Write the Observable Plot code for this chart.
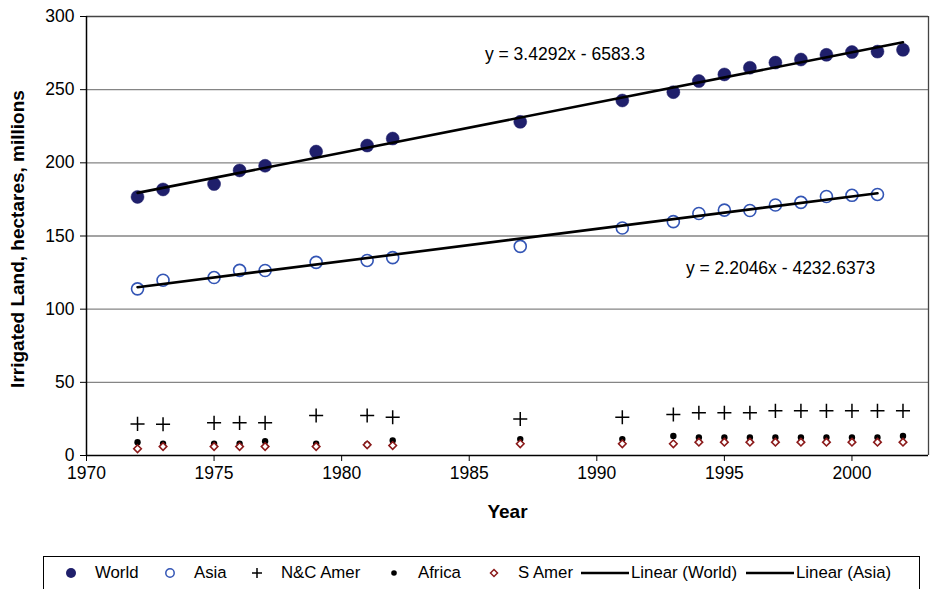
<!DOCTYPE html>
<html>
<head>
<meta charset="utf-8">
<script src="https://cdn.jsdelivr.net/npm/d3@7"></script>
<script src="https://cdn.jsdelivr.net/npm/@observablehq/plot@0.6"></script>
<style>
  html, body { margin: 0; padding: 0; background: #fff; }
  body { width: 933px; height: 589px; position: relative; overflow: hidden; font-family: "Liberation Sans", Arial, sans-serif; }
  #chart { position: absolute; left: 0; top: 0; }
  #legend { position: absolute; left: 43px; top: 556px; width: 877px; height: 40px; border: 1px solid #000; box-sizing: border-box;
            font-size: 16.8px; color: #000; }
  .item { display: flex; align-items: center; position: absolute; top: 6px; }
  .item svg { display: block; }
</style>
</head>
<body>
<div id="chart"></div>
<div id="legend"></div>
<script>
const years  = [1972,1973,1975,1976,1977,1979,1981,1982,1987,1991,1993,1994,1995,1996,1997,1998,1999,2000,2001,2002];
const world  = [176.7,181.8,185.5,194.8,198.0,207.7,211.8,216.6,228.0,242.6,248.3,255.9,260.4,265.0,268.5,270.6,273.8,275.7,276.0,277.2];
const asia   = [113.9,119.8,121.6,126.5,126.4,132.0,133.3,135.2,142.9,155.5,159.8,165.4,167.7,167.4,171.2,173.0,177.0,177.8,178.4,null];
const ncAmer = [21.6,21.3,22.3,22.3,22.3,27.3,27.3,26.2,25.0,26.2,28.0,29.2,29.2,29.2,30.5,30.5,30.5,30.5,30.5,30.5];
const africa = [9.1,8.0,8.0,8.0,9.8,8.0,7.5,10.2,11.2,11.2,13.4,12.3,12.3,12.3,12.3,12.3,12.3,12.3,12.3,13.4];
const sAmer  = [4.6,6.1,6.1,6.1,6.1,6.1,7.3,6.8,8.0,8.0,8.0,9.1,9.1,9.1,9.1,9.1,9.1,9.1,9.1,9.1];
const xTicks = [1970,1975,1980,1985,1990,1995,2000];
const yTicks = [0,50,100,150,200,250,300];
const equations = [
  {label: "y = 3.4292x - 6583.3", year: 1988.75, value: 274},
  {label: "y = 2.2046x - 4232.6373", year: 1997.2, value: 128}
];
const yLabel = "Irrigated Land, hectares, millions";
const xLabel = "Year";

const rows = years.map((year, i) => ({year, world: world[i], asia: asia[i], ncAmer: ncAmer[i], africa: africa[i], sAmer: sAmer[i]}));
const asiaRows = rows.filter(d => d.asia != null);

const chart = Plot.plot({
  width: 933,
  height: 556,
  marginTop: 16,
  marginBottom: 101,
  marginLeft: 86,
  marginRight: 5,
  style: {fontFamily: "'Liberation Sans', Arial, sans-serif", fontSize: "17.5px", background: "#fff", color: "#000"},
  x: {domain: [1970, 2003]},
  y: {domain: [0, 300]},
  marks: [
    Plot.ruleY(yTicks.filter(t => t > 0 && t < 300), {stroke: "#858585", strokeWidth: 1.3}),
    Plot.ruleY([300], {stroke: "#444", strokeWidth: 1.3}),
    Plot.ruleX([2003], {stroke: "#444", strokeWidth: 1.3}),
    Plot.axisY({ticks: yTicks, tickSize: 6, tickPadding: 6, label: null, tickFormat: d => String(d), fontSize: 17.5, stroke: "#000"}),
    Plot.axisX({ticks: xTicks, tickSize: 6, tickPadding: 5, label: null, tickFormat: d => String(d), fontSize: 17.5}),
    Plot.ruleX([1970], {stroke: "#000", strokeWidth: 1.5}),
    Plot.ruleY([0], {stroke: "#000", strokeWidth: 1.5}),
    Plot.dot(rows, {x: "year", y: "world", r: 6.5, fill: "#1f1f6b", stroke: "#1f1f6b", strokeWidth: 0.5}),
    Plot.dot(asiaRows, {x: "year", y: "asia", r: 6, fill: "#fff", stroke: "#3355b5", strokeWidth: 1.6}),
    Plot.dot(rows, {x: "year", y: "ncAmer", symbol: "plus", r: 4.6, stroke: "#000", strokeWidth: 1.5}),
    Plot.dot(rows, {x: "year", y: "africa", r: 3.2, fill: "#000", stroke: "none"}),
    Plot.dot(rows, {x: "year", y: "sAmer", symbol: "diamond2", r: 3.4, fill: "#fff", stroke: "#8b1a1a", strokeWidth: 1.6}),
    Plot.linearRegressionY(rows, {x: "year", y: "world", stroke: "#000", strokeWidth: 2.6, ci: 0}),
    Plot.linearRegressionY(asiaRows, {x: "year", y: "asia", stroke: "#000", strokeWidth: 2.6, ci: 0}),
    Plot.text(equations, {x: "year", y: "value", text: "label", fontSize: 17.5, fill: "#000"}),
    Plot.text([yLabel], {frameAnchor: "left", textAnchor: "middle", rotate: -90, dx: -69, dy: 3, fontWeight: "bold", fontSize: 19, fill: "#000"}),
    Plot.text([xLabel], {frameAnchor: "bottom", dy: 62, fontWeight: "bold", fontSize: 19, fill: "#000"})
  ]
});
document.getElementById("chart").appendChild(chart);

// Legend
const legendItems = [
  {label: "World", x: 20, sw: `<circle cx="7" cy="8" r="5" fill="#1f1f6b"/>`, w: 14},
  {label: "Asia", x: 119, sw: `<circle cx="7" cy="8" r="4.2" fill="none" stroke="#3355b5" stroke-width="1.5"/>`, w: 14},
  {label: "N&C Amer", x: 206, sw: `<path d="M2,8H12M7,3V13" stroke="#000" stroke-width="1.5"/>`, w: 14},
  {label: "Africa", x: 343, sw: `<circle cx="7" cy="8" r="2.8" fill="#000"/>`, w: 14},
  {label: "S Amer", x: 443, sw: `<path d="M7,4.5L10.5,8L7,11.5L3.5,8Z" fill="#fff" stroke="#8b1a1a" stroke-width="1.5"/>`, w: 14},
  {label: "Linear (World)", x: 537, sw: `<line x1="0" y1="8" x2="48" y2="8" stroke="#000" stroke-width="2.6"/>`, w: 48, line: true},
  {label: "Linear (Asia)", x: 702, sw: `<line x1="0" y1="8" x2="48" y2="8" stroke="#000" stroke-width="2.6"/>`, w: 48, line: true}
];
const legend = document.getElementById("legend");
for (const it of legendItems) {
  const el = document.createElement("div");
  el.className = "item";
  el.style.left = it.x + "px";
  el.innerHTML = `<svg width="${it.w}" height="16">${it.sw}</svg><span style="margin-left:${it.line ? 2 : 17}px">${it.label.replace("&", "&amp;")}</span>`;
  legend.appendChild(el);
}
</script>
</body>
</html>
